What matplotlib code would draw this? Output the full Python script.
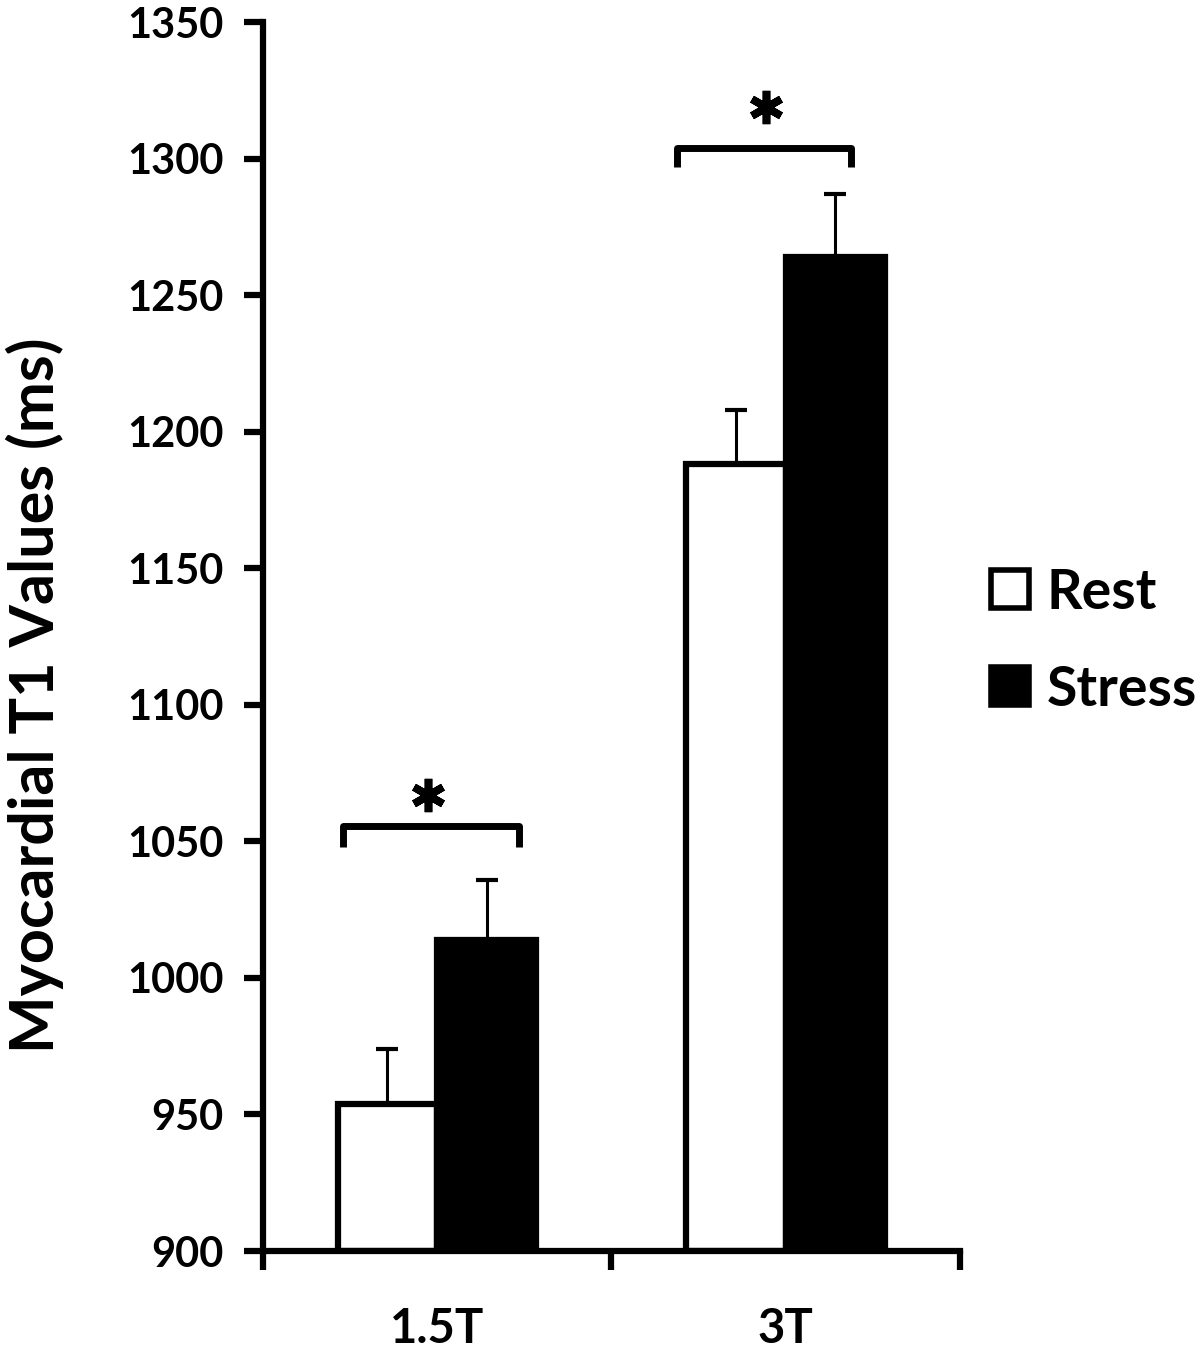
import matplotlib
matplotlib.use("Agg")
import matplotlib.pyplot as plt
from matplotlib.lines import Line2D
import numpy as np

plt.rcParams['font.family'] = ['Lato', 'DejaVu Sans']
plt.rcParams['font.weight'] = 'bold'

categories = ["1.5T", "3T"]
rest_means = [954, 1188]
rest_err = [20, 20]
stress_means = [1014, 1264]
stress_err = [22, 23]
series_names = ["Rest", "Stress"]
yticks = [900, 950, 1000, 1050, 1100, 1150, 1200, 1250, 1300, 1350]

fig = plt.figure(figsize=(12, 13.5), dpi=100)
ax = fig.add_axes([0.219, 0.0733, 0.581, 0.9104])

x = np.array([0.5, 1.5])
w = 0.285
ax.bar(x - w / 2, np.array(rest_means) - 900, w, bottom=900, color='white',
       edgecolor='black', linewidth=4.5, zorder=2)
ax.bar(x + w / 2, np.array(stress_means) - 900, w, bottom=900, color='black',
       edgecolor='black', linewidth=4.5, zorder=2)
ax.errorbar(x - w / 2, rest_means, yerr=[np.zeros(2), rest_err], fmt='none',
            ecolor='black', elinewidth=2.2, capsize=8, capthick=3, zorder=1)
ax.errorbar(x + w / 2, stress_means, yerr=[np.zeros(2), stress_err], fmt='none',
            ecolor='black', elinewidth=2.2, capsize=8, capthick=3, zorder=1)

# significance brackets and asterisks
brackets = [(0.23, 0.735, 1055.5, 1048), (1.188, 1.687, 1304, 1297)]
stars = [(0.473, 1067), (1.443, 1319)]
for (x0, x1, ytop, ybot), (sx, sy) in zip(brackets, stars):
    ax.plot([x0, x0, x1, x1], [ybot, ytop, ytop, ybot], color='black',
            linewidth=5, solid_joinstyle='round', solid_capstyle='butt', clip_on=False)
    ax.plot([sx], [sy], marker=(6, 2, 0), markersize=24, markeredgewidth=5.5,
            color='black', linestyle='none', clip_on=False)

ax.set_xlim(0, 2)
ax.set_ylim(900, 1350)
ax.set_yticks(yticks)
ax.set_yticklabels([str(v) for v in yticks], fontsize=30, fontweight='bold')
ax.set_xticks([0, 1, 2])
ax.set_xticklabels([])
ax.set_xticks(x, minor=True)
ax.set_xticklabels(categories, minor=True, fontsize=34, fontweight='bold')
ax.tick_params(axis='x', which='major', direction='out', length=14, width=4.5)
ax.tick_params(axis='x', which='minor', length=0, pad=40)
ax.tick_params(axis='y', direction='out', length=14, width=4.5, pad=14)
for s in ['top', 'right']:
    ax.spines[s].set_visible(False)
for s in ['left', 'bottom']:
    ax.spines[s].set_linewidth(4.5)

ax.set_ylabel("Myocardial T1 Values (ms)", fontsize=44, fontweight='bold')
ax.yaxis.label.set_va('center')
ax.yaxis.set_label_coords(-0.327, 0.452)

handles = [Line2D([], [], marker='s', linestyle='none', markersize=27,
                  markerfacecolor='white', markeredgecolor='black', markeredgewidth=4),
           Line2D([], [], marker='s', linestyle='none', markersize=27,
                  markerfacecolor='black', markeredgecolor='black', markeredgewidth=4)]
leg = fig.legend(handles, series_names, loc='center left',
                 bbox_to_anchor=(0.805, 0.525), frameon=False,
                 prop={'size': 40, 'weight': 'bold'}, handlelength=0.8,
                 handletextpad=0.25, labelspacing=0.85, borderaxespad=0)

fig.savefig("out.png", dpi=100)
